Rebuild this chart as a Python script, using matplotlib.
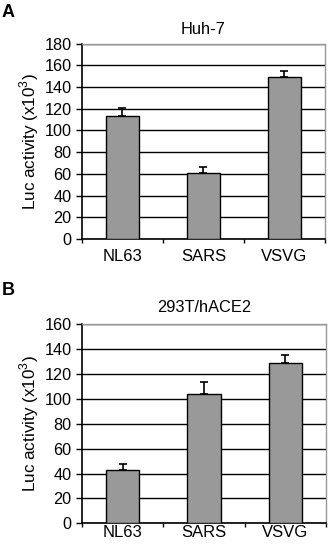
import numpy as np
import matplotlib
matplotlib.use("Agg")
import matplotlib.pyplot as plt

plt.rcParams['font.family'] = ['Liberation Sans', 'DejaVu Sans']
plt.rcParams['mathtext.fontset'] = 'custom'
plt.rcParams['mathtext.rm'] = 'Liberation Sans'

categories = ["NL63", "SARS", "VSVG"]
huh7_vals = [113, 61, 149]
huh7_err = [8, 5, 6]
hace2_vals = [43, 104, 129]
hace2_err = [5, 10, 6]

# letter, title, values, errors, y max, axes rect, x label pad, title pad, letter offset
panels = [
    ("A", "Huh-7", huh7_vals, huh7_err, 180, [0.2492, 0.5655, 0.7386, 0.3551], 7, 7, 0.056),
    ("B", "293T/hACE2", hace2_vals, hace2_err, 160, [0.2492, 0.0485, 0.7416, 0.3618], 1.5, 9, 0.062),
]

fig = plt.figure(figsize=(3.29, 5.5), dpi=100)

for letter, title, vals, errs, ymax, pos, xpad, tpad, loff in panels:
    ax = fig.add_axes(pos)
    x = np.arange(len(categories))
    ax.bar(x, vals, width=0.41, color="#999999", edgecolor="black", linewidth=1.0, zorder=3)
    ax.errorbar(x, vals, yerr=[np.zeros(len(errs)), errs], fmt="none", ecolor="black",
                elinewidth=1.2, capsize=3, capthick=1.2, zorder=4)
    ax.set_xlim(-0.5, len(categories) - 0.5)
    ax.set_ylim(0, ymax)
    ax.set_yticks(np.arange(0, ymax + 1, 20))
    ax.yaxis.grid(True, color="black", linewidth=1.0, zorder=0)
    ax.set_axisbelow(True)
    ax.set_xticks(x)
    ax.set_xticklabels(categories, fontsize=12)
    ax.set_xticks(np.arange(-0.5, len(categories), 1), minor=True)
    ax.tick_params(axis="x", which="major", length=0, pad=xpad)
    ax.tick_params(axis="x", which="minor", length=3, width=1.0, direction="out")
    ax.tick_params(axis="y", length=4, width=1.0, direction="out", labelsize=11.7, pad=3.5)
    for s in ["top", "right"]:
        ax.spines[s].set_color("#999999")
        ax.spines[s].set_linewidth(1.0)
    for s in ["left", "bottom"]:
        ax.spines[s].set_linewidth(1.2)
    ax.set_title(title, fontsize=11.8, pad=tpad)
    ax.set_ylabel("Luc activity (x10$^3$)", fontsize=12.3)
    ax.yaxis.set_label_coords(-0.17, 0.5)
    fig.text(0.005, pos[1] + pos[3] + loff, letter, fontsize=13, fontweight="bold",
             va="center", ha="left")

fig.savefig("out.png", dpi=100)
